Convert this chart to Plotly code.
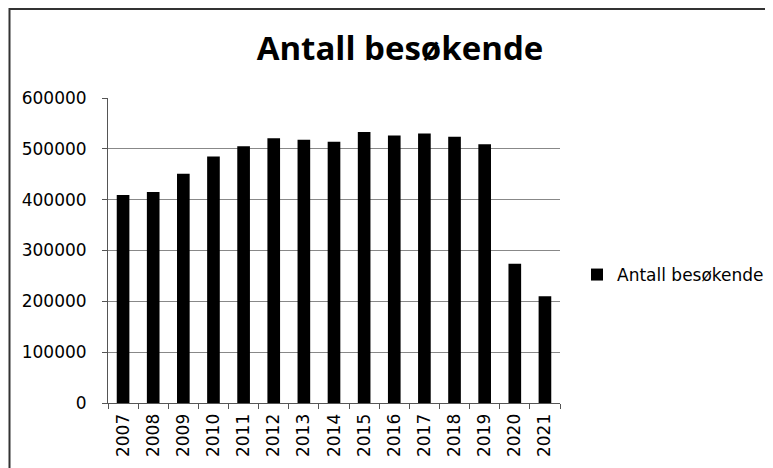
import plotly.graph_objects as go

years = ["2007", "2008", "2009", "2010", "2011", "2012", "2013", "2014",
         "2015", "2016", "2017", "2018", "2019", "2020", "2021"]
visitors = [409000, 415000, 451000, 485000, 505000, 521000, 518000, 514000,
            533000, 526000, 530000, 524000, 509000, 274000, 210000]
series_name = "Antall besøkende"
title_text = "Antall besøkende"
y_ticks = [0, 100000, 200000, 300000, 400000, 500000, 600000]

# page body has an 8px margin; work in screen pixels and shift
OFF = 8
W, H = 773 - OFF, 468 - OFF
L, T = 108 - OFF, 98 - OFF
pw, ph = 452, 305
R = W - L - pw
B = H - T - ph

def px_x(p):
    return (p - OFF - L) / pw

def px_y(p):
    return (T + ph - (p - OFF)) / ph

font_family = "DejaVu Sans"

fig = go.Figure()
fig.add_trace(go.Bar(
    x=years, y=visitors, name=series_name,
    marker=dict(color="black", line=dict(width=0)),
    showlegend=True,
))

fig.update_layout(
    width=W, height=H,
    margin=dict(l=L, r=R, t=T, b=B, autoexpand=False),
    paper_bgcolor="white", plot_bgcolor="white",
    bargap=0.58,
    font=dict(family=font_family, color="black", size=17),
    title=dict(text="<b>" + title_text + "</b>", x=(400 - OFF) / W, xanchor="center",
               y=1 - (48 - OFF) / H, yanchor="middle",
               font=dict(family="Open Sans", size=33, color="black")),
    showlegend=True,
    legend=dict(x=px_x(577), y=px_y(275), xanchor="left", yanchor="middle",
                font=dict(family=font_family, size=17, color="black"),
                bgcolor="rgba(0,0,0,0)", itemwidth=30),
    xaxis=dict(
        type="category", showgrid=False,
        showline=True, linecolor="#555", linewidth=1,
        ticks="outside", ticklen=5, tickcolor="#555",
        tickson="boundaries", tickangle=-90,
        ticklabelstandoff=3,
        tickfont=dict(family=font_family, size=17, color="black"),
    ),
    yaxis=dict(
        range=[0, 600000], tickvals=y_ticks,
        ticktext=[str(v) for v in y_ticks],
        showgrid=True, gridcolor="#888", gridwidth=1,
        showline=True, linecolor="#555", linewidth=1,
        ticks="outside", ticklen=5, tickcolor="#555",
        ticklabelstandoff=12,
        zeroline=False,
        tickfont=dict(family=font_family, size=17, color="black"),
    ),
    shapes=[dict(type="rect", xref="paper", yref="paper",
                 x0=px_x(9.5), x1=px_x(900), y0=px_y(9), y1=px_y(600),
                 line=dict(color="#333", width=2), fillcolor="rgba(0,0,0,0)",
                 layer="below")],
)

fig.write_html("out.html")
